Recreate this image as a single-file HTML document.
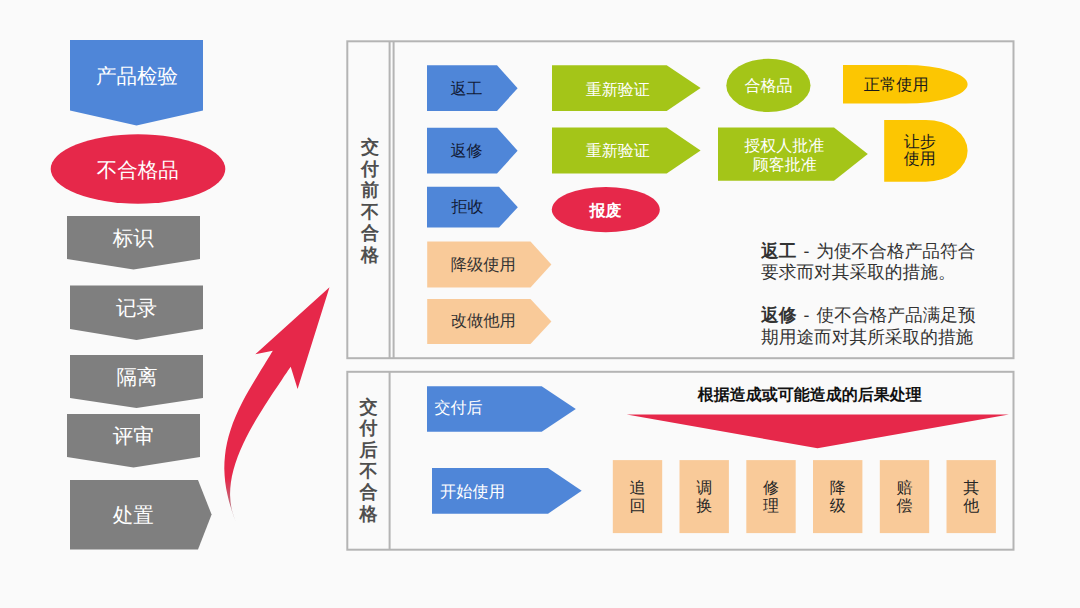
<!DOCTYPE html>
<html><head><meta charset="utf-8">
<style>
html,body{margin:0;padding:0;background:#fafafa;}
body{width:1080px;height:608px;overflow:hidden;}
svg{display:block;}
text{font-family:"Liberation Sans",sans-serif;text-rendering:geometricPrecision;}
</style></head><body>
<svg width="1080" height="608" viewBox="0 0 1080 608">
<rect x="0" y="0" width="1080" height="608" fill="#fafafa"/>

<!-- left column -->
<path d="M70,40 H203 V110.5 L136.5,125.5 L70,110.5 Z" fill="#4F86D8"/>
<text x="137" y="83" font-size="20.5" fill="#fff" text-anchor="middle">产品检验</text>
<ellipse cx="138" cy="169" rx="87.3" ry="34.7" fill="#E6284A"/>
<text x="137.7" y="177" font-size="20.5" fill="#fff" text-anchor="middle">不合格品</text>
<path d="M67,216 H200 V259 L133.5,269.5 L67,259 Z" fill="#7F7F7F"/>
<text x="133.2" y="245" font-size="20.5" fill="#fff" text-anchor="middle">标识</text>
<path d="M70,285.5 H203 V329 L136.5,340 L70,329 Z" fill="#7F7F7F"/>
<text x="136.6" y="315" font-size="20.5" fill="#fff" text-anchor="middle">记录</text>
<path d="M70,355 H203 V398 L136.5,408 L70,398 Z" fill="#7F7F7F"/>
<text x="136.9" y="384" font-size="20.5" fill="#fff" text-anchor="middle">隔离</text>
<path d="M67,414 H200 V457 L133.5,467.5 L67,457 Z" fill="#7F7F7F"/>
<text x="133.3" y="443" font-size="20.5" fill="#fff" text-anchor="middle">评审</text>
<path d="M70,480 H198 L211.6,514.5 L198,549.5 H70 Z" fill="#7F7F7F"/>
<text x="133.3" y="522" font-size="20.5" fill="#fff" text-anchor="middle">处置</text>

<!-- curved arrow -->
<defs><linearGradient id="tailg" gradientUnits="userSpaceOnUse" x1="0" y1="478" x2="0" y2="521"><stop offset="0" stop-color="#E6284A"/><stop offset="1" stop-color="#A89498"/></linearGradient></defs>
<path d="M329.5,287.2 L297.6,388.9 L290.7,366.8 C289.2,368.9 284.8,375.4 281.9,379.7 C279.0,384.0 276.1,388.2 273.2,392.5 C270.4,396.8 267.6,401.1 264.8,405.4 C262.1,409.7 259.4,414.0 256.9,418.3 C254.3,422.6 251.9,426.8 249.6,431.1 C247.3,435.4 245.1,439.7 243.1,444.0 C241.1,448.3 239.2,452.6 237.6,456.9 C236.0,461.2 234.6,465.4 233.5,469.7 C232.3,474.0 231.4,478.3 230.9,482.6 C230.3,486.9 230.0,491.2 230.1,495.5 C230.2,499.8 230.7,504.0 231.5,508.3 C232.4,512.6 234.8,519.1 235.5,521.2 C234.7,519.0 232.3,512.5 231.0,508.1 C229.6,503.7 228.4,499.3 227.5,495.0 C226.5,490.6 225.7,486.2 225.2,481.9 C224.7,477.5 224.4,473.1 224.3,468.7 C224.3,464.4 224.5,460.0 225.0,455.6 C225.4,451.3 226.1,446.9 227.1,442.5 C228.0,438.1 229.3,433.8 230.7,429.4 C232.1,425.0 233.8,420.6 235.7,416.3 C237.5,411.9 239.6,407.5 241.8,403.2 C244.0,398.8 246.5,394.4 249.0,390.0 C251.4,385.7 254.1,381.3 256.8,376.9 C259.4,372.6 262.2,368.2 264.9,363.8 C267.6,359.4 271.5,352.9 272.8,350.7 L255.3,354.2 Z" fill="url(#tailg)"/>

<!-- top panel -->
<g stroke="#B4B4B4" stroke-width="2" fill="none">
<rect x="347.3" y="41.3" width="666.2" height="316.9"/>
<line x1="389.6" y1="41.3" x2="389.6" y2="358.2"/>
<line x1="393.6" y1="41.3" x2="393.6" y2="358.2"/>
</g>
<text x="370" y="153" font-size="18" font-weight="bold" fill="#4f4f4f" text-anchor="middle">交</text>
<text x="370" y="174.5" font-size="18" font-weight="bold" fill="#4f4f4f" text-anchor="middle">付</text>
<text x="370" y="196" font-size="18" font-weight="bold" fill="#4f4f4f" text-anchor="middle">前</text>
<text x="370" y="217.5" font-size="18" font-weight="bold" fill="#4f4f4f" text-anchor="middle">不</text>
<text x="370" y="239" font-size="18" font-weight="bold" fill="#4f4f4f" text-anchor="middle">合</text>
<text x="370" y="260.5" font-size="18" font-weight="bold" fill="#4f4f4f" text-anchor="middle">格</text>

<!-- row 1 -->
<path d="M427,65.2 H497 L517.6,88.2 L497,111.1 H427 Z" fill="#4F86D8"/>
<text x="466.5" y="94" font-size="16" fill="#111a36" text-anchor="middle">返工</text>
<path d="M552,65.2 H666.7 L700.6,88 L666.7,110.9 H552 Z" fill="#A4C518"/>
<text x="617.8" y="94.5" font-size="16" fill="#fff" text-anchor="middle">重新验证</text>
<ellipse cx="768.4" cy="85.4" rx="42.1" ry="26.6" fill="#A4C518"/>
<text x="768.5" y="91" font-size="16" fill="#fff" text-anchor="middle">合格品</text>
<path d="M843,65 H905.3 A62.3,19.3 0 0 1 905.3,103.6 H843 Z" fill="#FCC602"/>
<text x="896.2" y="89.6" font-size="16.2" fill="#1a1a1a" text-anchor="middle">正常使用</text>

<!-- row 2 -->
<path d="M427,127.8 H497 L517.6,150.7 L497,173.6 H427 Z" fill="#4F86D8"/>
<text x="466.5" y="156" font-size="16" fill="#111a36" text-anchor="middle">返修</text>
<path d="M552,127.6 H666.7 L700.6,150.6 L666.7,173.6 H552 Z" fill="#A4C518"/>
<text x="617.8" y="156" font-size="16" fill="#fff" text-anchor="middle">重新验证</text>
<path d="M718,127.4 H834 L867.8,154 L834,180.7 H718 Z" fill="#A4C518"/>
<text x="784.2" y="150.5" font-size="16" fill="#fff" text-anchor="middle">授权人批准</text>
<text x="784.8" y="169.8" font-size="16" fill="#fff" text-anchor="middle">顾客批准</text>
<path d="M884.2,119.9 H925.9 A41.7,30.9 0 0 1 925.9,181.7 H884.2 Z" fill="#FCC602"/>
<text x="919.8" y="146.6" font-size="16" fill="#1a1a1a" text-anchor="middle">让步</text>
<text x="919.8" y="164.3" font-size="16" fill="#1a1a1a" text-anchor="middle">使用</text>

<!-- row 3 -->
<path d="M427,186.8 H499 L517.8,207.2 L499,227.6 H427 Z" fill="#4F86D8"/>
<text x="467.6" y="212" font-size="16" fill="#111a36" text-anchor="middle">拒收</text>
<ellipse cx="605.8" cy="209.6" rx="54" ry="22.7" fill="#E6284A"/>
<text x="605.6" y="215.5" font-size="16" font-weight="bold" fill="#fff" text-anchor="middle">报废</text>

<!-- row 4 -->
<path d="M427.2,241.5 H530.5 L551.4,264.5 L530.5,287.6 H427.2 Z" fill="#F9CA99"/>
<text x="483.2" y="269.6" font-size="16.3" fill="#333" text-anchor="middle">降级使用</text>
<path d="M427.2,299 H530.5 L551.4,321.5 L530.5,344 H427.2 Z" fill="#F9CA99"/>
<text x="483.2" y="326.3" font-size="16.3" fill="#333" text-anchor="middle">改做他用</text>

<!-- definitions -->
<text x="761" y="257" font-size="17.7" fill="#333333" font-weight="bold">返工</text><text x="803.6" y="257" font-size="17.7" fill="#333333">-</text><text x="816.2" y="257" font-size="17.7" fill="#333333">为使不合格产品符合</text>
<text x="761" y="277.8" font-size="17.7" fill="#333333">要求而对其采取的措施。</text>
<text x="761" y="321.3" font-size="17.7" fill="#333333" font-weight="bold">返修</text><text x="803.6" y="321.3" font-size="17.7" fill="#333333">-</text><text x="816.5" y="321.3" font-size="17.7" fill="#333333">使不合格产品满足预</text>
<text x="761" y="342.6" font-size="17.7" fill="#333333">期用途而对其所采取的措施</text>

<!-- bottom panel -->
<g stroke="#B4B4B4" stroke-width="2" fill="none">
<rect x="347.3" y="371.8" width="666.2" height="177.9"/>
<line x1="389.6" y1="371.8" x2="389.6" y2="549.7"/>
</g>
<text x="368.5" y="413" font-size="18" font-weight="bold" fill="#4f4f4f" text-anchor="middle">交</text>
<text x="368.5" y="434.3" font-size="18" font-weight="bold" fill="#4f4f4f" text-anchor="middle">付</text>
<text x="368.5" y="455.6" font-size="18" font-weight="bold" fill="#4f4f4f" text-anchor="middle">后</text>
<text x="368.5" y="476.9" font-size="18" font-weight="bold" fill="#4f4f4f" text-anchor="middle">不</text>
<text x="368.5" y="498.2" font-size="18" font-weight="bold" fill="#4f4f4f" text-anchor="middle">合</text>
<text x="368.5" y="519.5" font-size="18" font-weight="bold" fill="#4f4f4f" text-anchor="middle">格</text>

<path d="M427,386.2 H541.7 L575.8,409 L541.7,431.7 H427 Z" fill="#4F86D8"/>
<text x="434.5" y="413.1" font-size="16" fill="#fff">交付后</text>
<path d="M432,468 H548 L581.7,490.8 L548,513.7 H432 Z" fill="#4F86D8"/>
<text x="440" y="497" font-size="16.25" fill="#fff">开始使用</text>

<text x="809.8" y="400" font-size="16" font-weight="bold" fill="#111" text-anchor="middle">根据造成或可能造成的后果处理</text>
<path d="M626.7,414.4 L1008.9,414.6 L817.5,448.3 Z" fill="#E6284A"/>

<rect x="612.8" y="460.1" width="49.4" height="73" fill="#F9CA99"/>
<rect x="679.5" y="460.1" width="49.4" height="73" fill="#F9CA99"/>
<rect x="746.3" y="460.1" width="49.4" height="73" fill="#F9CA99"/>
<rect x="813" y="460.1" width="49.4" height="73" fill="#F9CA99"/>
<rect x="879.8" y="460.1" width="49.4" height="73" fill="#F9CA99"/>
<rect x="946.5" y="460.1" width="49.4" height="73" fill="#F9CA99"/>
<g font-size="16" fill="#262626" text-anchor="middle">
<text x="637.5" y="493">追</text><text x="637.5" y="511">回</text>
<text x="704.2" y="493">调</text><text x="704.2" y="511">换</text>
<text x="771" y="493">修</text><text x="771" y="511">理</text>
<text x="837.7" y="493">降</text><text x="837.7" y="511">级</text>
<text x="904.5" y="493">赔</text><text x="904.5" y="511">偿</text>
<text x="971.2" y="493">其</text><text x="971.2" y="511">他</text>
</g>
</svg>
</body></html>
